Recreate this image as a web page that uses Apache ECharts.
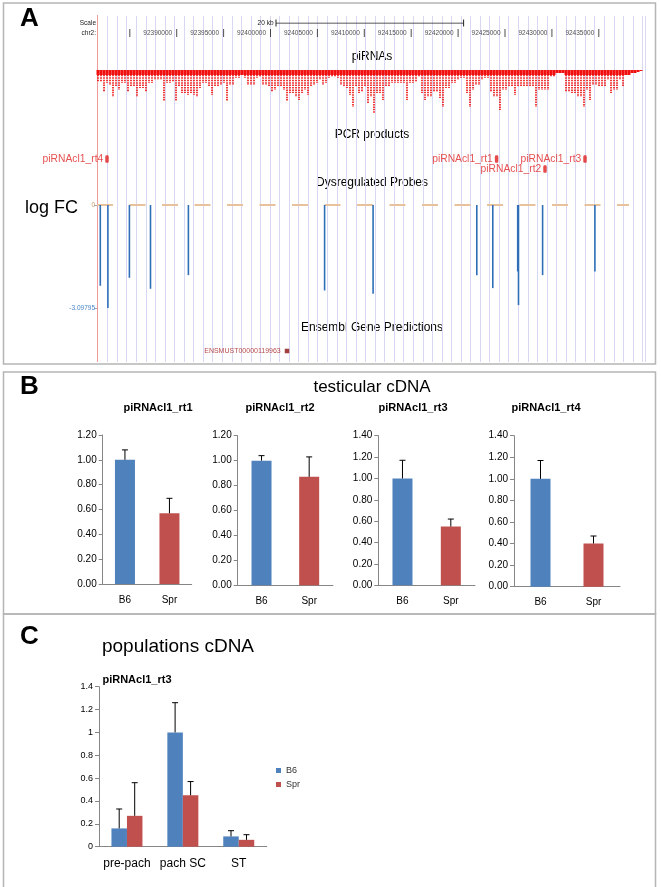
<!DOCTYPE html>
<html><head><meta charset="utf-8">
<script src="https://cdn.jsdelivr.net/npm/echarts@6/dist/echarts.min.js"></script>
<style>html,body{margin:0;padding:0;background:#fff}#c{width:661px;height:887px}</style>
</head><body><div id="c"></div>
<script>
// ---------------- DATA ----------------
// Panel A: genome browser (chr2)
const rulerTicks = [92385000,92390000,92395000,92400000,92405000,92410000,92415000,92420000,92425000,92430000,92435000];
const rulerLabels = ['','92390000','92395000','92400000','92405000','92410000','92415000','92420000','92425000','92430000','92435000'];
const scaleBar = [92400586, 92420586];
const scaleLabel = '20 kb';
// piRNA read stacking depth (px of stacked reads) per ~320 bp bin
const piDepth = [
12,12,22,13,15,27,17,20,13,13,
22,17,17,27,18,18,22,13,13,10,
10,10,31,13,13,12,31,17,23,23,
25,23,25,27,18,13,13,17,25,17,
17,15,13,31,15,15,8,8,5,8,
15,15,15,8,7,15,15,17,22,20,
17,17,20,31,23,23,27,30,23,20,
25,17,15,13,10,15,13,8,7,7,
8,15,17,18,25,37,17,23,22,17,
33,27,43,23,23,30,17,17,13,13,
13,13,13,30,13,13,12,7,23,30,
27,27,22,22,28,37,18,18,13,13,
10,8,8,23,37,20,15,15,10,8,
8,22,27,27,40,20,20,17,17,25,
17,17,17,17,17,17,37,20,20,20,
20,7,7,3,3,3,22,22,23,23,
27,27,37,20,30,15,15,17,17,17,
10,23,20,20,10,17,5,5,3,3,
2,1];
const pcrNames = ['piRNAcl1_rt4','piRNAcl1_rt1','piRNAcl1_rt2','piRNAcl1_rt3'];
const pcrPos = [92382569, 92424104, 92429264, 92433529];
const pcrRow = [0, 0, 1, 0];
const probePos = [92381855,92382665,92384957,92387207,92391247,92405767,92410938,92421994,92423699,92426354,92426439,92429009,92434584];
const probeLogFC = [-2.43,-3.098,-2.19,-2.52,-2.11,-2.57,-2.67,-2.11,-2.50,-2.00,-3.01,-2.11,-2.00];
const probeMin = -3.09795;
const zeroLine = [92381503, 92438220];
const geneName = 'ENSMUST00000119963';
const genePos = 92401759;

// Panel B: testicular cDNA
const bCats = ['B6','Spr'];
const rt1Vals = [1.00, 0.57], rt1Err = [0.08, 0.12];
const rt2Vals = [1.00, 0.87], rt2Err = [0.04, 0.16];
const rt3Vals = [1.00, 0.55], rt3Err = [0.17, 0.07];
const rt4Vals = [1.00, 0.40], rt4Err = [0.17, 0.07];

// Panel C: populations cDNA
const cCats = ['pre-pach','pach SC','ST'];
const cB6 = [0.16, 1.00, 0.09], cB6Err = [0.17, 0.26, 0.05];
const cSpr = [0.27, 0.45, 0.06], cSprErr = [0.29, 0.12, 0.045];

// ---------------- CHART ----------------
const FONT = '"Liberation Sans", Arial, sans-serif';
const BLUE = '#4f81bd', RED = '#c0504d';
const G0 = 92381503, G1 = 92439925;
const chart = echarts.init(document.getElementById('c'), null, {renderer:'canvas', width:661, height:887});

const gridBase = {outerBoundsMode:'none', containLabel:false};
const track = (top, height) => Object.assign({left:97, width:548, top, height}, gridBase);
const grids = [
  Object.assign({left:107.6, width:537.4, top:16, height:346}, gridBase), //0 guidelines
  track(23, 20),   //1 ruler
  Object.assign({left:96.5, width:546, top:70, height:50}, gridBase), //2 piRNA
  track(154, 20),  //3 PCR
  track(205, 103), //4 probes
  track(346, 10),  //5 gene
  Object.assign({left:102.7, width:89, top:435, height:149}, gridBase),      //6
  Object.assign({left:237.7, width:95.3, top:435.7, height:149.6}, gridBase), //7
  Object.assign({left:378.3, width:96.7, top:435.7, height:149.6}, gridBase), //8
  Object.assign({left:514, width:106, top:435.7, height:151}, gridBase),      //9
  Object.assign({left:99, width:167.7, top:686.7, height:160}, gridBase)      //10
];

const hiddenVal = (gi, min, max, inverse) => ({gridIndex:gi, type:'value', min, max, inverse:!!inverse, show:false});
const axisColor = '#868686';
const bX = gi => ({gridIndex:gi, type:'category', data:bCats,
  axisLine:{lineStyle:{color:axisColor}}, axisTick:{length:4, lineStyle:{color:axisColor}},
  axisLabel:{interval:0, fontFamily:FONT, fontSize:10, color:'#000', margin:11}});
const bY = (gi, max) => ({gridIndex:gi, type:'value', min:0, max, interval:0.2,
  axisLine:{show:true, lineStyle:{color:axisColor}}, axisTick:{show:true, length:4, lineStyle:{color:axisColor}},
  splitLine:{show:false}, axisLabel:{fontFamily:FONT, fontSize:10, color:'#000', margin:6, formatter:v=>v.toFixed(2)}});

const xAxes = [
  {gridIndex:0, type:'value', min:0, max:56.27, interval:1, axisLine:{show:false}, axisTick:{show:false}, axisLabel:{show:false},
   splitLine:{show:true, lineStyle:{color:'#d8d8f2', width:1}}},
  hiddenVal(1, G0, G1),
  {gridIndex:2, type:'category', data:piDepth.map((d,i)=>String(i)), show:false},
  hiddenVal(3, G0, G1),
  hiddenVal(4, G0, G1),
  hiddenVal(5, G0, G1),
  bX(6), bX(7), bX(8), bX(9),
  {gridIndex:10, type:'category', data:cCats,
   axisLine:{lineStyle:{color:axisColor}}, axisTick:{length:4, lineStyle:{color:axisColor}},
   axisLabel:{interval:0, fontFamily:FONT, fontSize:12, color:'#000', margin:11}}
];
const yAxes = [
  hiddenVal(0, 0, 1),
  hiddenVal(1, -1, 1),
  hiddenVal(2, 0, 50, true),
  hiddenVal(3, -0.5, 1.5, true),
  {gridIndex:4, type:'value', min:probeMin, max:0, interval:-probeMin,
   axisLine:{show:false}, splitLine:{show:false},
   axisTick:{show:true, length:3, lineStyle:{color:'#9ab'}},
   axisLabel:{fontFamily:FONT, fontSize:6.5, margin:2,
     formatter:v => (v < -1 ? String(probeMin) : '0'),
     color:v => (v < -1 ? '#4a86c8' : '#d09a66')}},
  hiddenVal(5, 0, 1),
  bY(6, 1.2), bY(7, 1.2), bY(8, 1.4), bY(9, 1.4),
  {gridIndex:10, type:'value', min:0, max:1.4, interval:0.2,
   axisLine:{show:true, lineStyle:{color:axisColor}}, axisTick:{show:true, length:4, lineStyle:{color:axisColor}},
   splitLine:{show:false}, axisLabel:{fontFamily:FONT, fontSize:9, color:'#000', margin:6, formatter:v=>String(+v.toFixed(1))}}
];

function errSeries(ax, vals, errs, offset) {
  return {type:'custom', xAxisIndex:ax, yAxisIndex:ax, z:5, silent:true,
    data: vals.map((v,i)=>[i, v, v + errs[i]]),
    renderItem(params, api) {
      const b = api.coord([api.value(0), api.value(1)]);
      const t = api.coord([api.value(0), api.value(2)]);
      const x = b[0] + (offset || 0);
      return {type:'group', children:[
        {type:'line', shape:{x1:x, y1:b[1], x2:x, y2:t[1]}, style:{stroke:'#000', lineWidth:1}},
        {type:'line', shape:{x1:x-3, y1:t[1], x2:x+3, y2:t[1]}, style:{stroke:'#000', lineWidth:1}}
      ]};
    }};
}
function bBars(ax, vals, errs) {
  return [
    {type:'bar', xAxisIndex:ax, yAxisIndex:ax, barWidth:20,
     data: vals.map((v,i)=>({value:v, itemStyle:{color: i===0 ? BLUE : RED}}))},
    errSeries(ax, vals, errs, 0)
  ];
}

const series = [
  {type:'scatter', xAxisIndex:0, yAxisIndex:0, data:[]},
  // ruler ticks with labels
  {type:'scatter', xAxisIndex:1, yAxisIndex:1, symbol:'rect', symbolSize:[1,8], itemStyle:{color:'#222'},
   data: rulerTicks.map((t,i)=>[t, 0]),
   label:{show:true, position:'left', distance:4, fontFamily:FONT, fontSize:6.5, color:'#222',
     formatter:p => rulerLabels[p.dataIndex]}},
  // scale bar
  {type:'line', xAxisIndex:1, yAxisIndex:1, data: scaleBar.map(v=>[v, 1]),
   symbol:'rect', symbolSize:[1,7], showSymbol:true, itemStyle:{color:'#222'}, lineStyle:{color:'#222', width:1},
   label:{show:true, position:'left', distance:2, fontFamily:FONT, fontSize:6.5, color:'#222',
     formatter:p => p.dataIndex === 0 ? scaleLabel : ''}},
  // piRNAs: solid top band + dashed stacks
  {type:'bar', xAxisIndex:2, yAxisIndex:2, barWidth:'100%', itemStyle:{color:'#f01010'},
   data: piDepth.map(d=>Math.min(d, 5))},
  {type:'pictorialBar', xAxisIndex:2, yAxisIndex:2, symbol:'rect', symbolSize:[1.7, 1.5], symbolMargin:0.5,
   symbolRepeat:true, symbolClip:true, itemStyle:{color:'#ee1818'}, data: piDepth},
  // PCR products
  {type:'scatter', xAxisIndex:3, yAxisIndex:3, symbol:'roundRect', symbolSize:[3.5,7.5], itemStyle:{color:'#e01e1e'},
   data: pcrPos.map((p,i)=>[p, pcrRow[i]]),
   label:{show:true, position:'left', distance:2, fontFamily:FONT, fontSize:10.3, color:'#e02424',
     formatter:p => pcrNames[p.dataIndex]}},
  // probes zero line
  {type:'line', xAxisIndex:4, yAxisIndex:4, data: zeroLine.map(v=>[v, 0]), showSymbol:false, z:1,
   lineStyle:{color:'#e8c29c', width:2, type:[16,16.5]}},
  // probes
  {type:'bar', xAxisIndex:4, yAxisIndex:4, barWidth:1.6, itemStyle:{color:'#2f6fb8'},
   data: probePos.map((p,i)=>[p, probeLogFC[i]])},
  // gene
  {type:'scatter', xAxisIndex:5, yAxisIndex:5, symbol:'rect', symbolSize:4.5, itemStyle:{color:'#8b1010'},
   data:[[genePos, 0.5]],
   label:{show:true, position:'left', distance:4, fontFamily:FONT, fontSize:7, color:'#a31a1a', formatter:()=>geneName}},
  ...bBars(6, rt1Vals, rt1Err),
  ...bBars(7, rt2Vals, rt2Err),
  ...bBars(8, rt3Vals, rt3Err),
  ...bBars(9, rt4Vals, rt4Err),
  {name:'B6', type:'bar', xAxisIndex:10, yAxisIndex:10, barWidth:15.5, barGap:'0%', itemStyle:{color:BLUE}, data:cB6},
  {name:'Spr', type:'bar', xAxisIndex:10, yAxisIndex:10, barWidth:15.5, barGap:'0%', itemStyle:{color:RED}, data:cSpr},
  errSeries(10, cB6, cB6Err, -7.75),
  errSeries(10, cSpr, cSprErr, 7.75)
];

const txt = (x, y, text, font, fill, align) => ({type:'text', x, y, silent:true,
  style:{text, font, fill: fill || '#000', align: align || 'left', verticalAlign:'middle'}});
const F = (size, bold) => (bold ? 'bold ' : '') + size + 'px ' + FONT;
const graphic = [
  {type:'rect', shape:{x:3.5, y:3, width:652, height:361}, style:{fill:'none', stroke:'#b5b5b5', lineWidth:1.5}, z:-1},
  {type:'rect', shape:{x:3.5, y:372, width:652, height:242}, style:{fill:'none', stroke:'#b5b5b5', lineWidth:1.5}, z:-1},
  {type:'rect', shape:{x:3.5, y:614, width:652, height:280}, style:{fill:'none', stroke:'#b5b5b5', lineWidth:1.5}, z:-1},
  {type:'line', shape:{x1:97.5, y1:15, x2:97.5, y2:362}, style:{stroke:'#f29a9a', lineWidth:1}, z:1},
  txt(20, 19, 'A', F(26, true)),
  txt(96, 23, 'Scale', F(6.5), '#222', 'right'),
  txt(96, 33, 'chr2:', F(6.5), '#222', 'right'),
  txt(372, 57, 'piRNAs', F(12), '#000', 'center'),
  txt(372, 135, 'PCR products', F(12), '#000', 'center'),
  txt(372, 183, 'Dysregulated Probes', F(12), '#000', 'center'),
  txt(372, 328, 'Ensembl Gene Predictions', F(12), '#000', 'center'),
  txt(25, 208, 'log FC', F(18)),
  txt(20, 387, 'B', F(26, true)),
  txt(372, 387, 'testicular cDNA', F(17), '#000', 'center'),
  txt(158, 408, 'piRNAcl1_rt1', F(11, true), '#000', 'center'),
  txt(280, 408, 'piRNAcl1_rt2', F(11, true), '#000', 'center'),
  txt(413, 408, 'piRNAcl1_rt3', F(11, true), '#000', 'center'),
  txt(546, 408, 'piRNAcl1_rt4', F(11, true), '#000', 'center'),
  txt(20, 637, 'C', F(26, true)),
  txt(178, 647, 'populations cDNA', F(19), '#000', 'center'),
  txt(137, 680, 'piRNAcl1_rt3', F(11, true), '#000', 'center')
];

chart.setOption({
  animation:false,
  backgroundColor:'#fff',
  grid: grids, xAxis: xAxes, yAxis: yAxes, series,
  legend: {data:['B6','Spr'], orient:'vertical', left:276, top:766, itemWidth:5, itemHeight:5, itemGap:5,
    icon:'rect', textStyle:{fontFamily:FONT, fontSize:9, color:'#333'}, selectedMode:false, padding:0},
  graphic
});
</script></body></html>
